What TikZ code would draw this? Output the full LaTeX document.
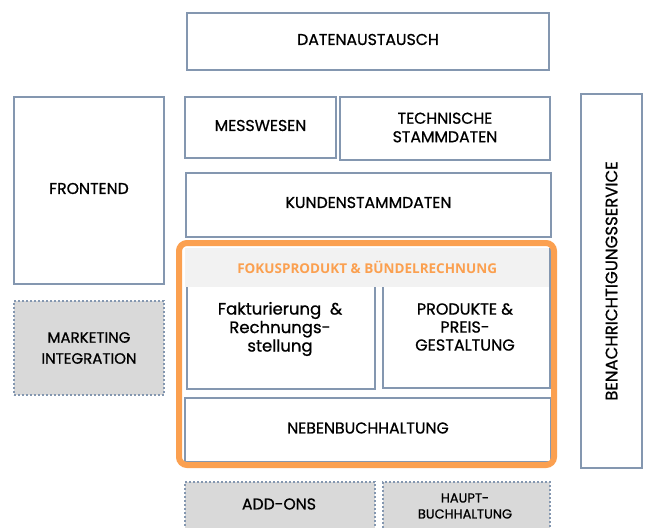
\documentclass[tikz,border=0pt]{standalone}
\usepackage{fontspec}
\setmainfont{Poppins}[FakeBold=0.8]
\newfontfamily\hdrfont{Open Sans}
\definecolor{bord}{HTML}{8497B0}
\definecolor{orng}{HTML}{FBA050}
\definecolor{greyfill}{HTML}{D9D9D9}
\definecolor{hdrfill}{HTML}{F2F2F2}
\tikzset{
  blk/.style={draw=bord, line width=2pt, fill=white, inner sep=0pt},
  dotblk/.style={draw=bord, line width=2pt, dotted, fill=greyfill, inner sep=0pt},
  lbl/.style={font=\fontsize{15.7}{18.5}\selectfont, align=center, inner sep=0pt},
  up/.style={yshift=2pt},
}
\newcommand{\bx}[6]{% name, style, x1, y1, x2, y2
  \node[#2, minimum width={#5-#3}, minimum height={#6-#4}, anchor=north west] (#1) at (#3,#4) {};}
\begin{document}
\begin{tikzpicture}[x=1pt,y=-1pt]
\useasboundingbox (0,0) rectangle (650,527);
% boxes
\bx{daten}{blk}{186}{12}{548}{69}
\node[lbl, up] (tdaten) at (daten.center) {DATENAUSTAUSCH};
\bx{mess}{blk}{184}{96}{335}{157}
\node[lbl, up] (tmess) at (mess.center) {MESSWESEN};
\bx{tech}{blk}{339}{96}{549}{159}
\node[lbl, yshift=1pt] (ttech) at (tech.center) {TECHNISCHE\\STAMMDATEN};
\bx{front}{blk}{13}{96}{163}{283}
\node[lbl, up] (tfront) at (front.center) {FRONTEND};
\bx{bena}{blk}{580}{93}{641}{467}
\node[lbl, rotate=90, font=\fontsize{16.5}{19}\selectfont] (tbena) at (bena.center) {BENACHRICHTIGUNGSSERVICE};
\bx{kunden}{blk}{185}{172}{550}{236}
\node[lbl, yshift=2.5pt] (tkunden) at (kunden.center) {KUNDENSTAMMDATEN};
% focus area
\bx{fakt}{blk}{186}{248}{374}{388}
\bx{prod}{blk}{382}{248}{549}{387}
\node[fill=hdrfill, minimum width=364, minimum height=39, anchor=north west, inner sep=0pt] (hdr) at (185,248) {};
\node[font=\hdrfont\bfseries\fontsize{13.5}{16}\selectfont, text=orng, inner sep=0pt] (thdr) at (hdr.center) {FOKUSPRODUKT \& BÜNDELRECHNUNG};
\node[lbl, font=\fontsize{16.5}{18.5}\selectfont] (tfakt) at (280,329) {Fakturierung\ \ \&\\Rechnungs-\\stellung};
\node[lbl, font=\fontsize{16}{18}\selectfont] (tprod) at (465,327) {PRODUKTE \&\\PREIS-\\GESTALTUNG};
\bx{neben}{blk}{184}{397}{550}{461}
\node[lbl, up] (tneben) at (neben.center) {NEBENBUCHHALTUNG};
\draw[orng, line width=6pt, rounded corners=8pt] (179,243) rectangle (554,465);
% grey dotted boxes
\bx{mark}{dotblk}{13}{300}{163}{394}
\node[lbl, font=\fontsize{15}{21}\selectfont] (tmark) at (mark.center) {MARKETING\\INTEGRATION};
\bx{addon}{dotblk}{184}{481}{374}{535}
\node[lbl] (taddon) at (279,504) {ADD-ONS};
\bx{haupt}{dotblk}{382}{481}{549}{535}
\node[lbl, font=\fontsize{13}{16}\selectfont] (thaupt) at (465,506) {HAUPT-\\BUCHHALTUNG};
\end{tikzpicture}
\end{document}
